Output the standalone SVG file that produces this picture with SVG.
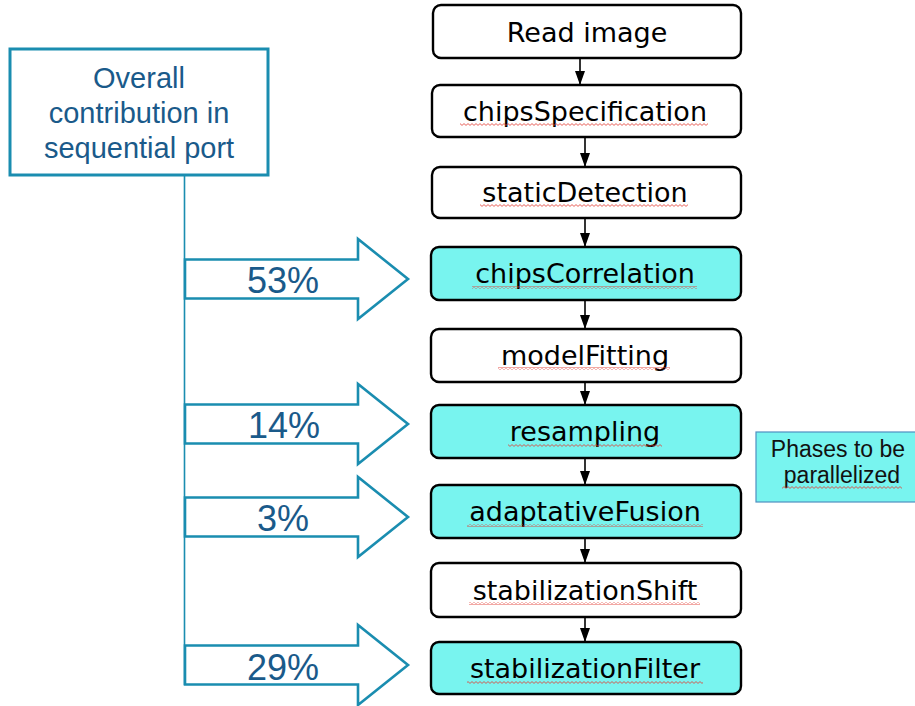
<svg xmlns="http://www.w3.org/2000/svg" width="915" height="706" viewBox="0 0 915 706">
  <style>
    .node rect { stroke: #000; stroke-width: 2.4; }
    .plain rect { fill: #ffffff; }
    .hot rect { fill: #78f4ef; }
    .node text { font-family: "DejaVu Sans", sans-serif; font-size: 27px; fill: #000; text-anchor: middle; }
    .blue { font-family: "Liberation Sans", Arial, sans-serif; fill: #1a5a8a; text-anchor: middle; }
    .pct { font-size: 36px; }
    .share { fill: #ffffff; stroke: #1a8db0; stroke-width: 2.6; stroke-linejoin: miter; }
    .flow line { stroke: #000; stroke-width: 1.6; }
    rect.squiggle, .node rect.squiggle { fill: url(#wave); stroke: none; }
  </style>
  <defs>
    <marker id="tip" markerUnits="userSpaceOnUse" markerWidth="14" markerHeight="10" refX="14" refY="5" orient="auto">
      <path d="M0,0 L14,5 L0,10 Z" fill="#000"/>
    </marker>
    <pattern id="wave" patternUnits="userSpaceOnUse" width="4" height="3">
      <path d="M0,0.6 L2,2.4 L4,0.6" fill="none" stroke="#e23a30" stroke-width="0.8"/>
    </pattern>
    <path id="bigArrow" d="M0,-19.5 H173 V-40 L223,0 L173,40 V19.5 H0 Z"/>
  </defs>

  <!-- sequential share panel -->
  <g id="overall">
    <rect x="10" y="49" width="258" height="126" fill="#ffffff" stroke="#1a8db0" stroke-width="3"/>
    <text class="blue" font-size="29" x="139" y="88">Overall</text>
    <text class="blue" font-size="29" x="139" y="123">contribution in</text>
    <text class="blue" font-size="29" x="139" y="158">sequential port</text>
  </g>

  <!-- trunk line feeding the share arrows -->
  <g id="trunk">
    <line x1="184.5" y1="175" x2="184.5" y2="685" stroke="#1a8db0" stroke-width="1.6"/>
  </g>

  <g id="share-53">
    <use href="#bigArrow" class="share" transform="translate(185,279)"/>
    <text class="blue pct" x="283" y="293">53%</text>
  </g>
  <g id="share-14">
    <use href="#bigArrow" class="share" transform="translate(185,424)"/>
    <text class="blue pct" x="284" y="438">14%</text>
  </g>
  <g id="share-3">
    <use href="#bigArrow" class="share" transform="translate(185,517)"/>
    <text class="blue pct" x="283" y="531">3%</text>
  </g>
  <g id="share-29">
    <use href="#bigArrow" class="share" transform="translate(185,665)"/>
    <text class="blue pct" x="283" y="680">29%</text>
  </g>

  <!-- pipeline stages -->
  <g id="read-image" class="node plain">
    <rect x="433" y="5" width="308" height="53" rx="8"/>
    <text x="587" y="41.5">Read image</text>
  </g>
  <g id="chips-specification" class="node plain">
    <rect x="432" y="85" width="309" height="52" rx="8"/>
    <text x="585" y="120.5">chipsSpecification</text>
    <rect class="squiggle" x="460" y="123" width="248" height="3"/>
  </g>
  <g id="static-detection" class="node plain">
    <rect x="432" y="167" width="309" height="51" rx="8"/>
    <text x="585" y="201.5">staticDetection</text>
    <rect class="squiggle" x="480" y="204" width="208" height="3"/>
  </g>
  <g id="chips-correlation" class="node hot">
    <rect x="431" y="247" width="310" height="53" rx="8"/>
    <text x="585" y="283">chipsCorrelation</text>
    <rect class="squiggle" x="472" y="286" width="225" height="3"/>
  </g>
  <g id="model-fitting" class="node plain">
    <rect x="431" y="329" width="310" height="53" rx="8"/>
    <text x="585" y="365">modelFitting</text>
    <rect class="squiggle" x="498" y="367" width="172" height="3"/>
  </g>
  <g id="resampling" class="node hot">
    <rect x="431" y="405" width="310" height="53" rx="8"/>
    <text x="585" y="441">resampling</text>
    <rect class="squiggle" x="508" y="444" width="154" height="3"/>
  </g>
  <g id="adaptative-fusion" class="node hot">
    <rect x="431" y="485" width="310" height="53" rx="8"/>
    <text x="585" y="521">adaptativeFusion</text>
    <rect class="squiggle" x="467" y="524" width="236" height="3"/>
  </g>
  <g id="stabilization-shift" class="node plain">
    <rect x="431" y="563" width="310" height="54" rx="8"/>
    <text x="585" y="599.5">stabilizationShift</text>
    <rect class="squiggle" x="469" y="602" width="231" height="3"/>
  </g>
  <g id="stabilization-filter" class="node hot">
    <rect x="431" y="642" width="310" height="52" rx="8"/>
    <text x="585" y="677.5">stabilizationFilter</text>
    <rect class="squiggle" x="467" y="681" width="236" height="3"/>
  </g>

  <!-- legend -->
  <g id="legend">
    <rect x="756" y="432" width="162" height="70" fill="#78f4ef" stroke="#4f8fc0" stroke-width="1.2"/>
    <text x="838" y="457" font-family="Liberation Sans, Arial, sans-serif" font-size="23" fill="#111" text-anchor="middle">Phases to be</text>
    <text x="842" y="483" font-family="Liberation Sans, Arial, sans-serif" font-size="23" fill="#111" text-anchor="middle">parallelized</text>
    <rect class="squiggle" x="782" y="486" width="120" height="3"/>
  </g>

  <!-- stage-to-stage connectors -->
  <g id="connectors" class="flow">
    <line x1="580" y1="58" x2="580" y2="85" marker-end="url(#tip)"/>
    <line x1="585" y1="137" x2="585" y2="167" marker-end="url(#tip)"/>
    <line x1="585" y1="218" x2="585" y2="247" marker-end="url(#tip)"/>
    <line x1="585" y1="300" x2="585" y2="329" marker-end="url(#tip)"/>
    <line x1="585" y1="382" x2="585" y2="405" marker-end="url(#tip)"/>
    <line x1="585" y1="458" x2="585" y2="485" marker-end="url(#tip)"/>
    <line x1="585" y1="538" x2="585" y2="563" marker-end="url(#tip)"/>
    <line x1="585" y1="617" x2="585" y2="642" marker-end="url(#tip)"/>
  </g>
</svg>
